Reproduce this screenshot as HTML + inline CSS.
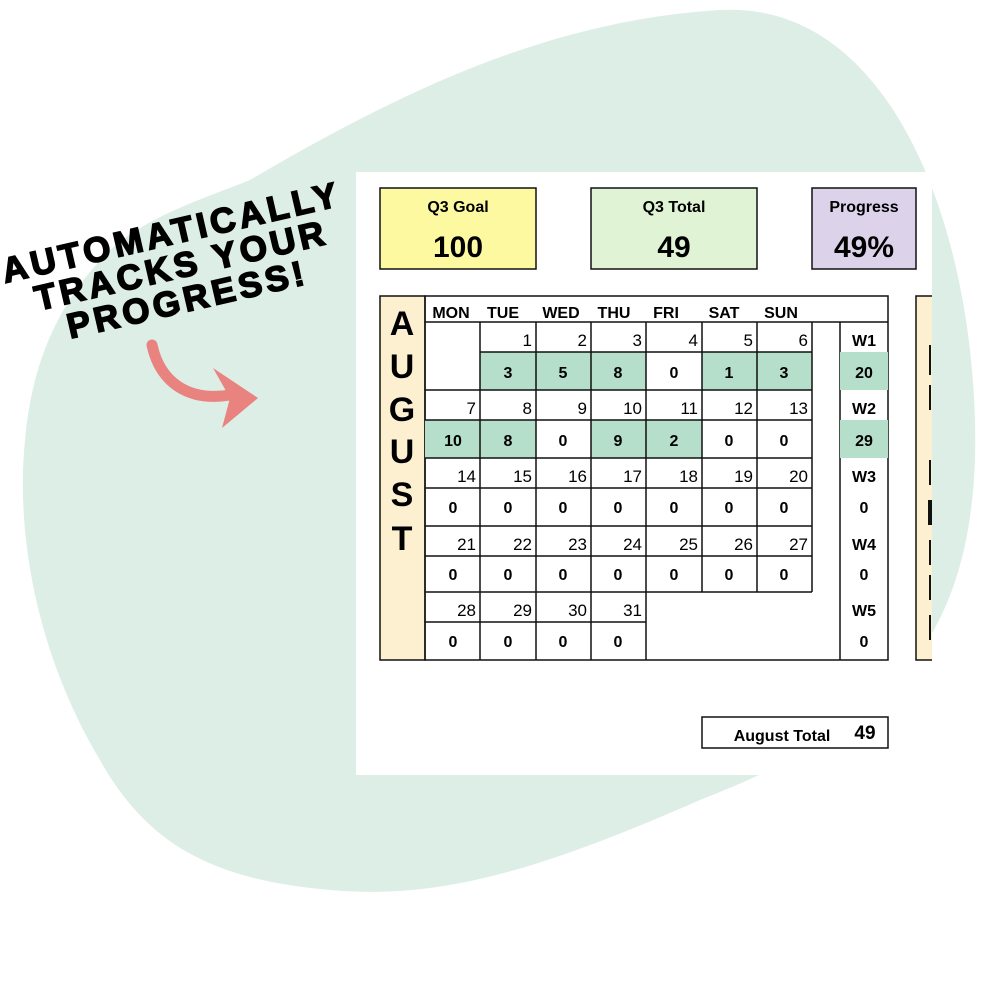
<!DOCTYPE html>
<html><head><meta charset="utf-8"><style>
html,body{margin:0;padding:0;background:#fff;width:1000px;height:1000px;overflow:hidden}
svg{display:block}
text{font-family:"Liberation Sans",Arial,sans-serif}
.d{font-size:17px;text-anchor:end}
.v{font-size:16px;font-weight:bold;text-anchor:middle}
.h{font-size:16px;font-weight:bold;text-anchor:middle}
.c{fill:none;stroke:#111;stroke-width:1.5}
</style></head><body>
<svg width="1000" height="1000" viewBox="0 0 1000 1000" xmlns="http://www.w3.org/2000/svg">
<path d="M250,180 C420,80 560,20 720,10 C900,0 980,250 975,460 C968,650 880,730 700,800 C540,870 440,900 330,890 C220,880 150,850 100,760 C40,660 15,540 25,440 C32,360 60,300 110,250 C150,215 200,200 250,180 Z" fill="#ddeee7"/>
<g font-family="Liberation Sans, Arial, sans-serif" font-weight="900" font-size="35" fill="#000" stroke="#000" stroke-width="1.6" letter-spacing="4" text-anchor="middle">
<text transform="translate(174,244) rotate(-13)">AUTOMATICALLY</text>
<text transform="translate(184,277) rotate(-13)">TRACKS YOUR</text>
<text transform="translate(190,311) rotate(-13)">PROGRESS!</text>
</g>
<path d="M152,345 C160,382 188,402 230,395" fill="none" stroke="#e8837f" stroke-width="11" stroke-linecap="round"/>
<path d="M213,368 L258,398 L222,428 L230,398 Z" fill="#e8837f"/>
<rect x="356" y="172" width="576" height="603" fill="#fff"/>
<rect x="380" y="188" width="156" height="81" fill="#fdf9a0" stroke="#111" stroke-width="1.5"/>
<text x="458" y="212" class="h" font-size="18">Q3 Goal</text>
<text x="458" y="257" text-anchor="middle" font-weight="bold" font-size="30">100</text>
<rect x="591" y="188" width="166" height="81" fill="#e0f3d5" stroke="#111" stroke-width="1.5"/>
<text x="674" y="212" class="h" font-size="18">Q3 Total</text>
<text x="674" y="257" text-anchor="middle" font-weight="bold" font-size="30">49</text>
<rect x="812" y="188" width="104" height="81" fill="#dcd3ea" stroke="#111" stroke-width="1.5"/>
<text x="864" y="212" class="h" font-size="18">Progress</text>
<text x="864" y="257" text-anchor="middle" font-weight="bold" font-size="30">49%</text>
<rect x="916" y="296" width="16" height="364" fill="#fdf0d0"/>
<path d="M932,296 H916 V660 H932" class="c"/>
<g stroke="#111" stroke-width="2">
<line x1="930" y1="345" x2="930" y2="375"/><line x1="930" y1="385" x2="930" y2="410"/>
<line x1="930" y1="460" x2="930" y2="485"/><line x1="930" y1="500" x2="930" y2="525" stroke-width="4"/>
<line x1="930" y1="540" x2="930" y2="565"/><line x1="930" y1="575" x2="930" y2="600"/><line x1="930" y1="615" x2="930" y2="640"/>
</g>
<rect x="380" y="296" width="45" height="364" fill="#fdf0d0" stroke="#111" stroke-width="1.5"/>
<g font-size="34" font-weight="bold" text-anchor="middle">
<text x="402" y="335">A</text><text x="402" y="378">U</text><text x="402" y="421">G</text>
<text x="402" y="463">U</text><text x="402" y="506">S</text><text x="402" y="550">T</text>
</g>
<rect x="425" y="296" width="463" height="364" fill="none" stroke="#111" stroke-width="1.5"/>
<line x1="425" y1="322" x2="888" y2="322" stroke="#111" stroke-width="1.5"/>
<line x1="840" y1="322" x2="840" y2="660" stroke="#111" stroke-width="1.5"/>
<g class="h">
<text x="451" y="318">MON</text><text x="503" y="318">TUE</text><text x="561" y="318">WED</text>
<text x="614" y="318">THU</text><text x="666" y="318">FRI</text><text x="724" y="318">SAT</text><text x="781" y="318">SUN</text>
</g>
<g fill="#b5dfcb">
<rect x="480" y="352" width="166" height="38"/>
<rect x="702" y="352" width="110" height="38"/>
<rect x="425" y="420" width="111" height="38"/>
<rect x="591" y="420" width="111" height="38"/>
<rect x="840" y="352" width="48" height="38"/>
<rect x="840" y="420" width="48" height="38"/>
</g>
<g stroke="#111" stroke-width="1.5">
<line x1="480" y1="352" x2="812" y2="352"/>
<line x1="425" y1="390" x2="812" y2="390"/>
<line x1="425" y1="420" x2="812" y2="420"/>
<line x1="425" y1="458" x2="812" y2="458"/>
<line x1="425" y1="488" x2="812" y2="488"/>
<line x1="425" y1="526" x2="812" y2="526"/>
<line x1="425" y1="556" x2="812" y2="556"/>
<line x1="425" y1="592" x2="812" y2="592"/>
<line x1="425" y1="622" x2="646" y2="622"/>
<line x1="480" y1="322" x2="480" y2="660"/>
<line x1="536" y1="322" x2="536" y2="660"/>
<line x1="591" y1="322" x2="591" y2="660"/>
<line x1="646" y1="322" x2="646" y2="660"/>
<line x1="702" y1="322" x2="702" y2="592"/>
<line x1="757" y1="322" x2="757" y2="592"/>
<line x1="812" y1="322" x2="812" y2="592"/>
</g>
<g class="d">
<text x="532" y="346">1</text><text x="587" y="346">2</text><text x="642" y="346">3</text><text x="698" y="346">4</text><text x="753" y="346">5</text><text x="808" y="346">6</text>
<text x="476" y="414">7</text><text x="532" y="414">8</text><text x="587" y="414">9</text><text x="642" y="414">10</text><text x="698" y="414">11</text><text x="753" y="414">12</text><text x="808" y="414">13</text>
<text x="476" y="482">14</text><text x="532" y="482">15</text><text x="587" y="482">16</text><text x="642" y="482">17</text><text x="698" y="482">18</text><text x="753" y="482">19</text><text x="808" y="482">20</text>
<text x="476" y="550">21</text><text x="532" y="550">22</text><text x="587" y="550">23</text><text x="642" y="550">24</text><text x="698" y="550">25</text><text x="753" y="550">26</text><text x="808" y="550">27</text>
<text x="476" y="616">28</text><text x="532" y="616">29</text><text x="587" y="616">30</text><text x="642" y="616">31</text>
</g>
<g class="v">
<text x="508" y="378">3</text><text x="563" y="378">5</text><text x="618" y="378">8</text><text x="674" y="378">0</text><text x="729" y="378">1</text><text x="784" y="378">3</text>
<text x="453" y="446">10</text><text x="508" y="446">8</text><text x="563" y="446">0</text><text x="618" y="446">9</text><text x="674" y="446">2</text><text x="729" y="446">0</text><text x="784" y="446">0</text>
<text x="453" y="513">0</text><text x="508" y="513">0</text><text x="563" y="513">0</text><text x="618" y="513">0</text><text x="674" y="513">0</text><text x="729" y="513">0</text><text x="784" y="513">0</text>
<text x="453" y="580">0</text><text x="508" y="580">0</text><text x="563" y="580">0</text><text x="618" y="580">0</text><text x="674" y="580">0</text><text x="729" y="580">0</text><text x="784" y="580">0</text>
<text x="453" y="647">0</text><text x="508" y="647">0</text><text x="563" y="647">0</text><text x="618" y="647">0</text>
<text x="864" y="346">W1</text><text x="864" y="378">20</text>
<text x="864" y="414">W2</text><text x="864" y="446">29</text>
<text x="864" y="482">W3</text><text x="864" y="513">0</text>
<text x="864" y="550">W4</text><text x="864" y="580">0</text>
<text x="864" y="616">W5</text><text x="864" y="647">0</text>
</g>
<rect x="702" y="717" width="186" height="31" fill="#fff" stroke="#111" stroke-width="1.5"/>
<text x="782" y="741" class="h">August Total</text>
<text x="865" y="739" font-size="19" font-weight="bold" text-anchor="middle">49</text>
</svg>
</body></html>
